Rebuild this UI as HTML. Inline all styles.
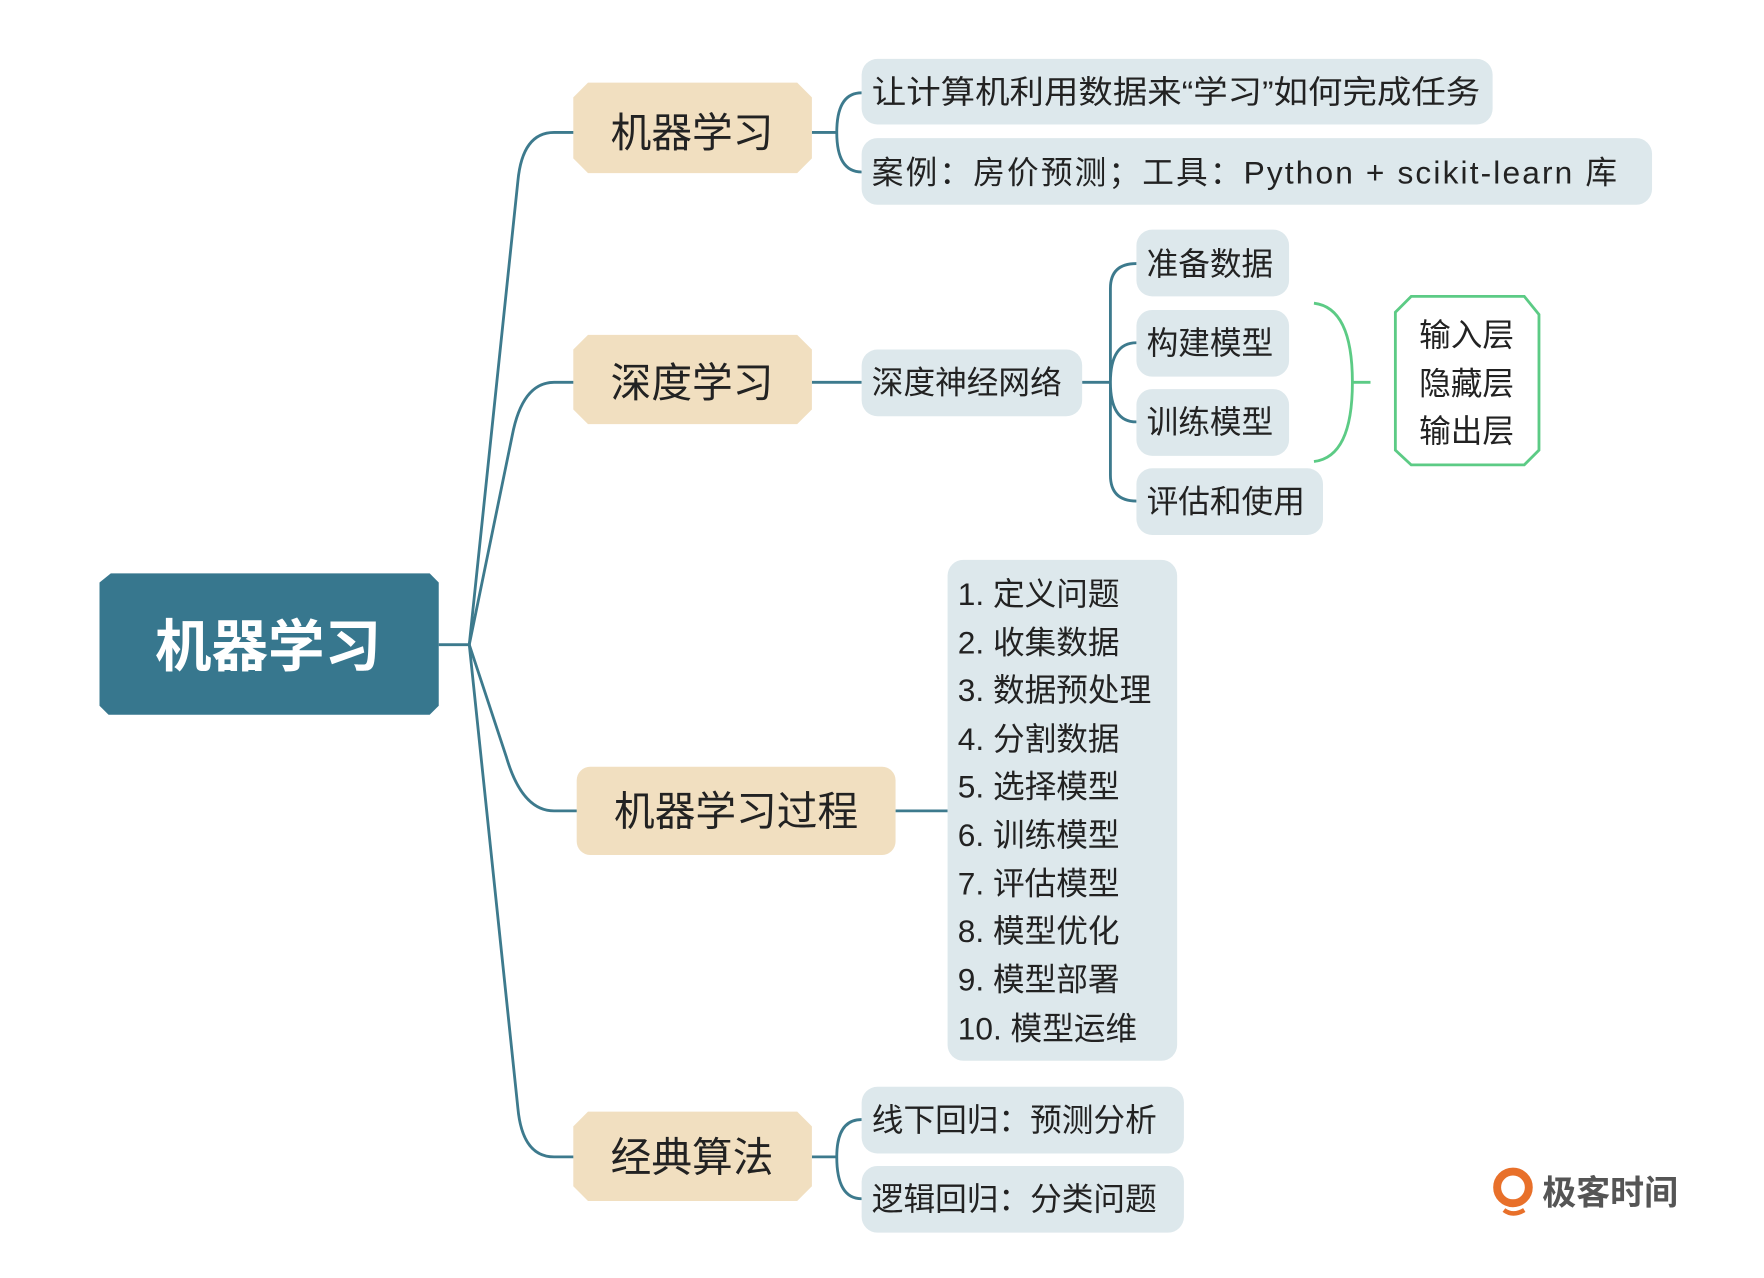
<!DOCTYPE html>
<html><head><meta charset="utf-8"><style>
html,body{margin:0;padding:0;background:#fff;}
svg{display:block;}
text{font-family:"Liberation Sans","Noto Sans CJK SC",sans-serif;}
</style></head><body>
<svg width="1764" height="1278" viewBox="0 0 1560 1130" xmlns="http://www.w3.org/2000/svg">
<g fill="none" stroke="#3d7a8d" stroke-width="2.5">
<path d="M388,570 L415,570"/>
<path d="M415,570 L458,160 Q462,117 490,117 L510,117"/>
<path d="M415,570 L453,385 Q462,338 490,338 L510,338"/>
<path d="M415,570 L448,670 Q462,717 490,717 L512,717"/>
<path d="M415,570 L458,980 Q462,1023 490,1023 L510,1023"/>
<path d="M718,117 L740,117 M740,117 Q740,82 762,82 M740,117 Q740,152 762,152"/>
<path d="M718,338 L762,338"/>
<path d="M957,338 L982,338 M982,255 Q982,233 1005,233 M982,255 L982,420 Q982,443 1005,443 M982,338 Q982,303 1005,303 M982,338 Q982,373 1005,373"/>
<path d="M792,717 L838,717"/>
<path d="M718,1023 L740,1023 M740,1023 Q740,990 762,990 M740,1023 Q740,1060 762,1060"/>
</g>
<path d="M98,507 L380,507 L388,515 L388,624 L380,632 L96,632 L88,624 L88,515 Z" fill="#37778e"/>
<text x="237" y="589" font-size="50" font-weight="bold" fill="#fff" text-anchor="middle">机器学习</text>
<g fill="#f1dfc0">
<path d="M520,73 L705,73 L718,86 L718,140 L705,153 L520,153 L507,140 L507,86 Z"/>
<path d="M520,296 L705,296 L718,309 L718,362 L705,375 L520,375 L507,362 L507,309 Z"/>
<rect x="510" y="678" width="282" height="78" rx="12"/>
<path d="M520,983 L705,983 L718,996 L718,1049 L705,1062 L520,1062 L507,1049 L507,996 Z"/>
</g>
<g font-size="36" fill="#222" text-anchor="middle">
<text x="612" y="130">机器学习</text>
<text x="612" y="351">深度学习</text>
<text x="651" y="730">机器学习过程</text>
<text x="612" y="1036">经典算法</text>
</g>
<g fill="#dde8ec">
<rect x="762" y="52" width="558" height="58" rx="14"/>
<rect x="762" y="122" width="699" height="59" rx="14"/>
<rect x="762" y="309" width="195" height="59" rx="14"/>
<rect x="1005" y="203" width="135" height="59" rx="14"/>
<rect x="1005" y="274" width="135" height="59" rx="14"/>
<rect x="1005" y="344" width="135" height="59" rx="14"/>
<rect x="1005" y="414" width="165" height="59" rx="14"/>
<rect x="838" y="495" width="203" height="443" rx="14"/>
<rect x="762" y="961" width="285" height="59" rx="14"/>
<rect x="762" y="1031" width="285" height="59" rx="14"/>
</g>
<g font-size="28" fill="#222">
<text x="771" y="91" textLength="538" lengthAdjust="spacingAndGlyphs">让计算机利用数据来“学习”如何完成任务</text>
<text x="771" y="162" textLength="659" lengthAdjust="spacing">案例：房价预测；工具：Python + scikit-learn 库</text>
<text x="771" y="348">深度神经网络</text>
<text x="1014" y="243">准备数据</text>
<text x="1014" y="313">构建模型</text>
<text x="1014" y="383">训练模型</text>
<text x="1014" y="453">评估和使用</text>
<text x="847" y="535">1. 定义问题</text>
<text x="847" y="578">2. 收集数据</text>
<text x="847" y="620">3. 数据预处理</text>
<text x="847" y="663">4. 分割数据</text>
<text x="847" y="705">5. 选择模型</text>
<text x="847" y="748">6. 训练模型</text>
<text x="847" y="791">7. 评估模型</text>
<text x="847" y="833">8. 模型优化</text>
<text x="847" y="876">9. 模型部署</text>
<text x="847" y="919">10. 模型运维</text>
<text x="771" y="1000">线下回归：预测分析</text>
<text x="771" y="1070">逻辑回归：分类问题</text>
</g>
<g fill="none" stroke="#5ccb85" stroke-width="2.5">
<path d="M1162,268 Q1196,272 1196,338 Q1196,404 1162,408"/>
<path d="M1196,338 L1212,338"/>
<path d="M1248,262 L1348,262 L1361,278 L1361,398 L1348,411 L1248,411 L1234,398 L1234,276 Z" fill="#fff"/>
</g>
<g font-size="28" fill="#222" text-anchor="middle">
<text x="1297" y="306">输入层</text>
<text x="1297" y="349">隐藏层</text>
<text x="1297" y="391">输出层</text>
</g>
<circle cx="1338" cy="1050" r="14" fill="none" stroke="#e8702a" stroke-width="7"/>
<path d="M1330,1070 Q1338,1076 1348,1070" stroke="#e8702a" stroke-width="4" fill="none"/>
<text x="1364" y="1065" font-size="30" font-weight="bold" fill="#555">极客时间</text>
</svg>
</body></html>
